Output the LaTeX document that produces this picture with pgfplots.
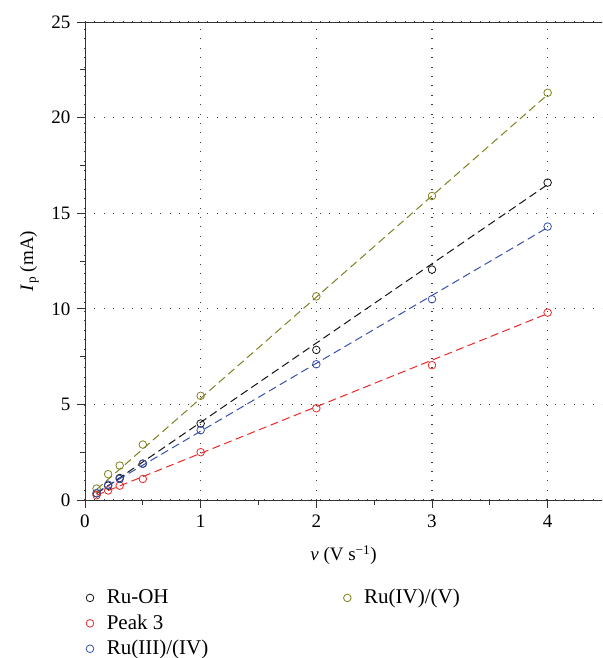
\documentclass[border=0pt]{standalone}
\usepackage{pgfplots}
\pgfplotsset{compat=1.18}
\usepackage{fontspec}
\setmainfont{Liberation Serif}
\definecolor{cblack}{RGB}{20,20,20}
\definecolor{cred}{RGB}{238,40,40}
\definecolor{cblue}{RGB}{55,80,175}
\definecolor{colive}{RGB}{128,128,30}
\begin{document}
\fontsize{19}{22}\selectfont
\begin{tikzpicture}
\begin{axis}[
  scale only axis, width=517pt, height=478pt,
  xmin=0, xmax=4.47, ymin=0, ymax=25,
  axis x line=box, axis y line=left, axis line style={-, line width=0.8pt, color=black!80},
  tick pos=left, tick align=outside,
  xtick={0,1,2,3,4}, ytick={0,5,10,15,20,25},
  minor xtick={0.5,1.5,2.5,3.5}, minor ytick={2.5,7.5,12.5,17.5,22.5},
  major tick length=8pt, minor tick length=5pt,
  every tick/.style={line width=0.8pt, color=black!80},
  grid=major,
  major grid style={color=black!75, line width=1.2pt, dash pattern=on 0.9pt off 8.5pt},
  /pgf/number format/assume math mode=true,
  tick label style={font=\fontsize{19}{22}\selectfont},
  label style={font=\fontsize{19}{22}\selectfont},
  xlabel={\textit{ν} (V s\textsuperscript{−1})},
  xlabel style={yshift=-5pt},
  ylabel={\textit{I}\textsubscript{p} (mA)},
  legend columns=2,
  legend style={at={(0,0)}, anchor=north west, xshift=-2pt, yshift=-85pt,
    draw=none, fill=none, font=\fontsize{21}{23}\selectfont,
    column sep=6pt, row sep=4pt},
  legend cell align=left,
]
% data
\addplot[only marks, mark=o, mark size=3.8pt, cblack, mark options={line width=0.8pt}] coordinates {
 (0.1,0.35) (0.2,0.75) (0.3,1.15) (0.5,1.9) (1,4.0) (2,7.85) (3,12.05) (4,16.6)};
\addlegendentry{\makebox[229pt][l]{\hspace{5pt}Ru-OH}}
\addplot[only marks, mark=o, mark size=3.8pt, colive, mark options={line width=0.8pt}] coordinates {
 (0.1,0.6) (0.2,1.35) (0.3,1.8) (0.5,2.9) (1,5.45) (2,10.65) (3,15.9) (4,21.3)};
\addlegendentry{\hspace{5pt}Ru(IV)/(V)}
\addplot[only marks, mark=o, mark size=3.8pt, cred, mark options={line width=0.8pt}] coordinates {
 (0.1,0.25) (0.2,0.5) (0.3,0.75) (0.5,1.1) (1,2.5) (2,4.8) (3,7.05) (4,9.8)};
\addlegendentry{\makebox[229pt][l]{\hspace{5pt}Peak 3}}
\addlegendimage{empty legend}
\addlegendentry{}
\addplot[only marks, mark=o, mark size=3.8pt, cblue, mark options={line width=0.8pt}] coordinates {
 (0.1,0.35) (0.2,0.8) (0.3,1.1) (0.5,1.9) (1,3.65) (2,7.1) (3,10.5) (4,14.3)};
\addlegendentry{\makebox[229pt][l]{\hspace{5pt}Ru(III)/(IV)}}
% fitted lines
\addplot[cblack, line width=1pt, dash pattern=on 8pt off 4.5pt, forget plot] coordinates {(0.1,0.33) (4,16.5)};
\addplot[cred, line width=1pt, dash pattern=on 8pt off 4.5pt, forget plot] coordinates {(0.1,0.25) (4,9.75)};
\addplot[cblue, line width=1pt, dash pattern=on 8pt off 4.5pt, forget plot] coordinates {(0.1,0.4) (4,14.25)};
\addplot[colive, line width=1pt, dash pattern=on 8pt off 4.5pt, forget plot] coordinates {(0.1,0.55) (4,21.2)};
\coordinate (tl) at (rel axis cs:0,1);
\coordinate (br) at (rel axis cs:1,0);
\end{axis}
\pgfresetboundingbox
\path ([xshift=-85pt,yshift=22pt]tl) rectangle ([yshift=-158pt]br);
\end{tikzpicture}
\end{document}
